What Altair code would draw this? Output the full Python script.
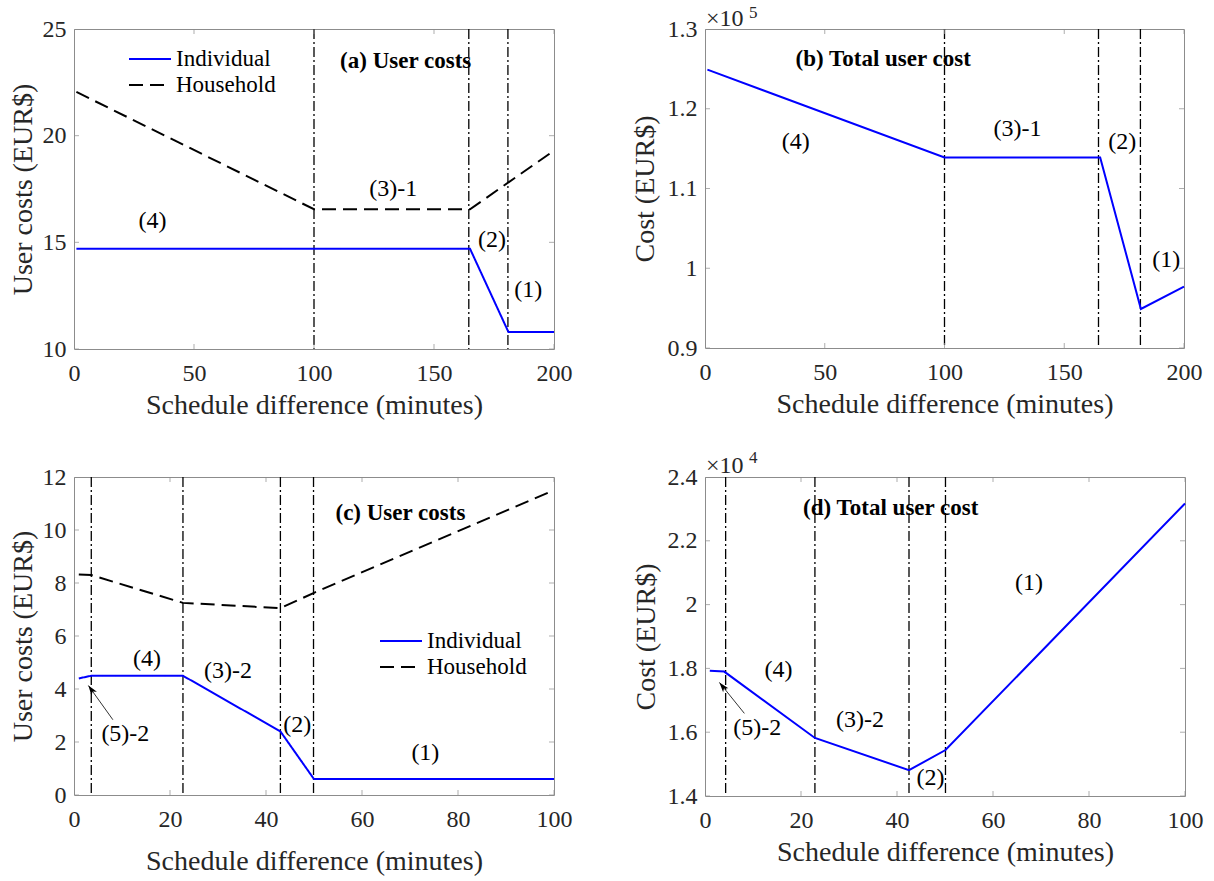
import altair as alt
import pandas as pd

FONT = "Liberation Serif"
BLUE = "#0000ff"
BOX = "#8c8c8c"
LBL = "#262626"
DASHDOT = [10, 3, 2, 3]
HH_DASH = [14, 7]
XTITLE = "Schedule difference (minutes)"

# ---------------- data: panel (a) ----------------
a_x_ind = [1, 165, 181, 200]
a_y_ind = [14.7, 14.7, 10.8, 10.8]
a_x_hh = [1, 100, 165, 200]
a_y_hh = [22.05, 16.55, 16.55, 19.3]
a_vlines = [100, 164.5, 180.8]
a_xticks = [0, 50, 100, 150, 200]
a_yticks = [10, 15, 20, 25]
a_lab = ["(4)", "(3)-1", "(2)", "(1)"]
a_lab_x = [32.7, 133.0, 174.2, 189.3]
a_lab_y = [16.0, 17.5, 15.1, 12.75]

# ---------------- data: panel (b) ----------------
b_x = [1, 100, 165, 182, 200]
b_y = [124900, 113900, 113900, 94900, 97700]
b_vlines = [100, 164.3, 181.8]
b_xticks = [0, 50, 100, 150, 200]
b_yticks = [90000, 100000, 110000, 120000, 130000]
b_lab = ["(4)", "(3)-1", "(2)", "(1)"]
b_lab_x = [37.9, 130.5, 174.2, 192.6]
b_lab_y = [115800, 117500, 115800, 101000]

# ---------------- data: panel (c) ----------------
c_x_ind = [1, 3.6, 22.7, 43.0, 50.0, 100]
c_y_ind = [4.4, 4.5, 4.5, 2.4, 0.6, 0.6]
c_x_hh = [1, 3.6, 22.7, 43.0, 50.0, 100]
c_y_hh = [8.32, 8.3, 7.25, 7.05, 7.63, 11.5]
c_vlines = [3.6, 22.7, 43.0, 49.9]
c_xticks = [0, 20, 40, 60, 80, 100]
c_yticks = [0, 2, 4, 6, 8, 10, 12]
c_lab = ["(4)", "(3)-2", "(2)", "(1)", "(5)-2"]
c_lab_x = [15.2, 32.1, 46.5, 73.2, 10.7]
c_lab_y = [5.13, 4.69, 2.63, 1.59, 2.31]
c_arrow_from = [8.1, 2.84]
c_arrow_to = [3.0, 4.13]

# ---------------- data: panel (d) ----------------
d_x = [1, 4.0, 22.9, 42.5, 50.1, 100]
d_y = [17930, 17900, 15820, 14810, 15440, 23170]
d_vlines = [4.3, 22.9, 42.5, 50.1]
d_xticks = [0, 20, 40, 60, 80, 100]
d_yticks = [14000, 16000, 18000, 20000, 22000, 24000]
d_lab = ["(4)", "(3)-2", "(2)", "(1)", "(5)-2"]
d_lab_x = [15.3, 32.3, 47.0, 67.5, 10.9]
d_lab_y = [17950, 16380, 14560, 20680, 16120]
d_arrow_from = [8.2, 16590]
d_arrow_to = [3.0, 17560]

SERIES = ["Individual", "Household"]
ARROW_SHAPE = "M0,0L-0.5,1.5L0,1.1L0.5,1.5Z"


def make_panel(w, h, xdom, ydom, xticks, yticks, ytitle, ytitle_x, xtitle_y,
               lines, vlines, labs, lab_x, lab_y, title, title_xy,
               label_expr=None, legend_xy=None, arrow=None, arrow_angle=0,
               exponent=None, exp_y=(-7, -15)):
    xs = alt.Scale(domain=xdom, nice=False, zero=False)
    ys = alt.Scale(domain=ydom, nice=False, zero=False)
    xaxis = alt.Axis(values=xticks, labelFlush=False, labelOverlap=False,
                     labelPadding=12, labelFontSize=24, labelColor=LBL,
                     title=XTITLE, titleFontSize=28, titleFontWeight="normal",
                     titleColor=LBL, titleY=xtitle_y, titleBaseline="middle",
                     domain=False, ticks=False, tickSize=0, grid=False)
    ykw = dict(values=yticks, labelFlush=False, labelOverlap=False,
               labelPadding=8, labelFontSize=24, labelColor=LBL,
               title=ytitle, titleFontSize=28, titleFontWeight="normal",
               titleColor=LBL, titleX=ytitle_x, titleY=h / 2,
               titleBaseline="middle", domain=False, ticks=False, tickSize=0,
               grid=False)
    if label_expr:
        ykw["labelExpr"] = label_expr
    yaxis = alt.Axis(**ykw)
    X = alt.X("x:Q", scale=xs, axis=xaxis)
    Y = alt.Y("y:Q", scale=ys, axis=yaxis)

    layers = []
    # dash-dot regime boundaries
    layers.append(alt.Chart(pd.DataFrame({"x": vlines})).mark_rule(
        color="black", strokeWidth=1.3, strokeDash=DASHDOT).encode(x=X))

    # cost curves
    if "s" in lines.columns:
        leg = alt.Legend(orient="none", legendX=legend_xy[0], legendY=legend_xy[1],
                         title=None, symbolType="stroke", symbolSize=1764,
                         symbolStrokeWidth=2, labelFontSize=23, labelColor="black",
                         labelOffset=4, padding=0, rowPadding=2, clipHeight=24)
        layers.append(alt.Chart(lines).mark_line(strokeWidth=2).encode(
            x=X, y=Y,
            color=alt.Color("s:N", scale=alt.Scale(domain=SERIES, range=[BLUE, "black"]),
                            legend=leg),
            strokeDash=alt.StrokeDash("s:N", scale=alt.Scale(domain=SERIES,
                                      range=[[1, 0], HH_DASH]), legend=leg),
            detail="s:N"))
    else:
        layers.append(alt.Chart(lines).mark_line(strokeWidth=2, color=BLUE).encode(
            x=X, y=Y))

    # inward ticks (MATLAB box style)
    nx, ny = len(xticks), len(yticks)
    xt = pd.DataFrame({"x": xticks * 2, "y": [ydom[0]] * nx + [ydom[1]] * nx})
    yt = pd.DataFrame({"x": [xdom[0]] * ny + [xdom[1]] * ny, "y": yticks * 2})
    layers.append(alt.Chart(xt).mark_tick(orient="vertical", size=10, thickness=1,
                                          color=BOX, clip=True).encode(x=X, y=Y))
    layers.append(alt.Chart(yt).mark_tick(orient="horizontal", size=10, thickness=1,
                                          color=BOX, clip=True).encode(x=X, y=Y))

    # regime labels
    layers.append(alt.Chart(pd.DataFrame({"x": lab_x, "y": lab_y, "t": labs})).mark_text(
        fontSize=24, color="black", align="center", baseline="middle").encode(
        x=X, y=Y, text="t:N"))
    # panel title
    layers.append(alt.Chart(pd.DataFrame({"x": [title_xy[0]], "y": [title_xy[1]],
                                          "t": [title]})).mark_text(
        fontSize=23, fontWeight="bold", color="black", align="center",
        baseline="middle").encode(x=X, y=Y, text="t:N"))

    if arrow is not None:
        adf = pd.DataFrame({"x": [arrow[0][0]], "y": [arrow[0][1]],
                            "x2": [arrow[1][0]], "y2": [arrow[1][1]]})
        layers.append(alt.Chart(adf).mark_rule(color="#333333", strokeWidth=1).encode(
            x=X, y=Y, x2="x2:Q", y2="y2:Q"))
        hdf = pd.DataFrame({"x": [arrow[1][0]], "y": [arrow[1][1]]})
        layers.append(alt.Chart(hdf).mark_point(shape=ARROW_SHAPE, filled=True,
                                                color="black", size=180, opacity=1,
                                                angle=arrow_angle).encode(x=X, y=Y))

    if exponent is not None:
        layers.append(alt.Chart(pd.DataFrame({"t": ["\u00d710"]})).mark_text(
            fontSize=24, color=LBL, align="left", baseline="alphabetic").encode(
            x=alt.value(1), y=alt.value(exp_y[0]), text="t:N"))
        layers.append(alt.Chart(pd.DataFrame({"t": [exponent]})).mark_text(
            fontSize=17, color=LBL, align="left", baseline="alphabetic").encode(
            x=alt.value(44), y=alt.value(exp_y[1]), text="t:N"))

    return alt.layer(*layers).properties(width=w, height=h)


a_lines = pd.DataFrame({"x": a_x_ind + a_x_hh, "y": a_y_ind + a_y_hh,
                        "s": ["Individual"] * len(a_x_ind) + ["Household"] * len(a_x_hh)})
c_lines = pd.DataFrame({"x": c_x_ind + c_x_hh, "y": c_y_ind + c_y_hh,
                        "s": ["Individual"] * len(c_x_ind) + ["Household"] * len(c_x_hh)})
b_lines = pd.DataFrame({"x": b_x, "y": b_y})
d_lines = pd.DataFrame({"x": d_x, "y": d_y})

pa = make_panel(480, 320, [0, 200], [10, 25], a_xticks, a_yticks, "User costs (EUR$)",
                -51, 56, a_lines, a_vlines, a_lab, a_lab_x, a_lab_y,
                "(a) User costs", (138.2, 23.48), legend_xy=(54, 18))
pb = make_panel(479, 319, [0, 200], [90000, 130000], b_xticks, b_yticks, "Cost (EUR$)",
                -60, 56, b_lines, b_vlines, b_lab, b_lab_x, b_lab_y,
                "(b) Total user cost", (74.4, 126300),
                label_expr="datum.value / 100000 + ''", exponent="5", exp_y=(-3, -11))
pc = make_panel(480, 318, [0, 100], [0, 12], c_xticks, c_yticks, "User costs (EUR$)",
                -51, 66, c_lines, c_vlines, c_lab, c_lab_x, c_lab_y,
                "(c) User costs", (68.0, 10.63), legend_xy=(305, 152),
                arrow=(c_arrow_from, c_arrow_to), arrow_angle=325)
pd_ = make_panel(480, 319, [0, 100], [14000, 24000], d_xticks, d_yticks, "Cost (EUR$)",
                 -59, 56, d_lines, d_vlines, d_lab, d_lab_x, d_lab_y,
                 "(d) Total user cost", (38.7, 23040),
                 label_expr="datum.value / 10000 + ''",
                 arrow=(d_arrow_from, d_arrow_to), arrow_angle=321, exponent="4",
                 exp_y=(-4, -14))

chart = alt.concat(pa, pb, pc, pd_, columns=2, bounds="flush",
                   spacing={"row": 128, "column": 151}).resolve_scale(
    color="independent", strokeDash="independent").properties(
    padding={"left": 8, "top": 3, "right": 5, "bottom": 5}
).configure(font=FONT).configure_view(stroke=BOX, strokeWidth=1)

chart.save("out.html", embed_options={"renderer": "svg", "actions": False})
